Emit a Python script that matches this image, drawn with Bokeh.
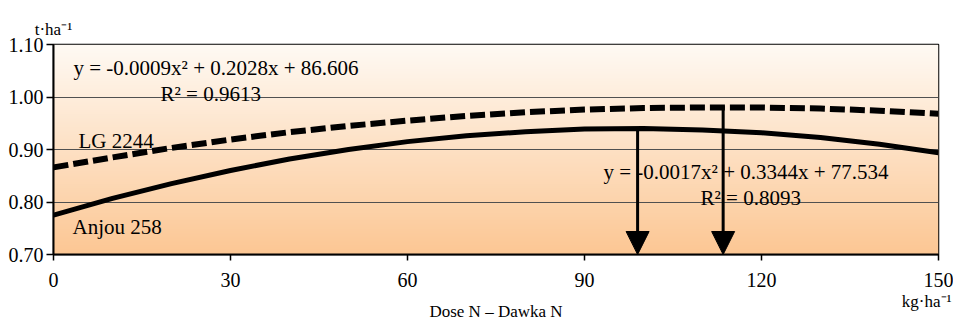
import numpy as np
from bokeh.plotting import figure
from bokeh.models import (Range1d, Label, Arrow, NormalHead, FixedTicker, PrintfTickFormatter,
                          LinearAxis)
from bokeh.embed import file_html
from bokeh.resources import INLINE

# ---- data ----
dose = [0, 10, 20, 30, 40, 50, 60, 70, 80, 90, 100, 110, 120, 130, 140, 150]
lg2244 = [0.866, 0.885, 0.903, 0.919, 0.933, 0.945, 0.955, 0.964, 0.971,
          0.976, 0.979, 0.980, 0.980, 0.978, 0.974, 0.968]
anjou258 = [0.775, 0.807, 0.835, 0.860, 0.882, 0.900, 0.915, 0.926, 0.934,
            0.939, 0.940, 0.937, 0.932, 0.923, 0.910, 0.894]
arrow_dose = [99.0, 113.5]
arrow_top = [0.938, 0.983]
x_ticks = [0, 30, 60, 90, 120, 150]
y_ticks = [0.70, 0.80, 0.90, 1.00, 1.10]
grid_ticks = [0.80, 0.90, 1.00]

eq_lg = "y = -0.0009x\u00b2 + 0.2028x + 86.606"
r2_lg = "R\u00b2 = 0.9613"
eq_an = "y = -0.0017x\u00b2 + 0.3344x + 77.534"
r2_an = "R\u00b2 = 0.8093"
name_lg = "LG 2244"
name_an = "Anjou 258"
x_title = "Dose N \u2013 Dawka N"
y_unit = "t\u00b7ha\u207b\u00b9"
x_unit = "kg\u00b7ha\u207b\u00b9"

FONT = "Liberation Serif"

# ---- layout (frame: x 53..938, y 44..257) ----
W, H = 953, 323
FL, FR, FT, FB = 53, 938, 44, 257
p = figure(width=W, height=H, x_range=Range1d(0, 150), y_range=Range1d(0.70, 1.10),
           output_backend="svg", toolbar_location=None,
           min_border_left=FL, min_border_right=W - FR, min_border_top=FT, min_border_bottom=H - FB)
p.border_fill_color = "white"
p.outline_line_color = "black"
p.outline_line_width = 1.5

def X(px):
    return (px - FL) / (FR - FL) * 150

def Y(py):
    return 1.10 - (py - FT) / (FB - FT) * 0.40

# gradient background
n = 213
img = np.zeros((n, 1), dtype=np.uint32)
v = img.view(dtype=np.uint8).reshape((n, 1, 4))
t = np.linspace(0, 1, n)
bot = np.array([252, 199, 148])
top = np.array([255, 250, 244])
for i in range(3):
    v[:, 0, i] = (bot[i] + (top[i] - bot[i]) * t).astype(np.uint8)
v[:, 0, 3] = 255
p.image_rgba(image=[img], x=0, y=0.70, dw=150, dh=0.40, level="image")

# grid
p.xgrid.visible = False
p.ygrid.ticker = FixedTicker(ticks=grid_ticks)
p.ygrid.grid_line_color = "#505050"
p.ygrid.grid_line_width = 1

# axes
for ax in (p.xaxis[0], p.yaxis[0]):
    ax.axis_line_color = "black"
    ax.axis_line_width = 2
    ax.major_tick_line_color = "black"
    ax.major_tick_line_width = 1.5
    ax.minor_tick_line_color = None
    ax.major_label_text_font = FONT
    ax.major_label_text_font_size = "20px"
    ax.major_label_text_color = "black"
    ax.major_tick_in = 0
p.xaxis.ticker = FixedTicker(ticks=x_ticks)
p.yaxis.ticker = FixedTicker(ticks=y_ticks)
p.yaxis.formatter = PrintfTickFormatter(format="%.2f")
p.xaxis.major_tick_out = 6
p.xaxis.major_label_standoff = 12
p.yaxis.major_tick_out = 7
p.yaxis.major_label_standoff = 3

# second, line-less x axis carrying the unit and the axis title
unit_pos = 148
ax2 = LinearAxis(ticker=FixedTicker(ticks=[unit_pos]),
                 major_label_overrides={unit_pos: x_unit},
                 axis_line_color=None, major_tick_line_color=None, minor_tick_line_color=None,
                 major_tick_out=0, major_tick_in=0, major_label_standoff=2,
                 major_label_text_font=FONT, major_label_text_font_size="17px",
                 major_label_text_color="black",
                 axis_label=x_title, axis_label_text_font=FONT, axis_label_text_font_size="17px",
                 axis_label_text_font_style="normal", axis_label_text_color="black",
                 axis_label_standoff=-12)
p.add_layout(ax2, "below")

# line-less axis above carrying the y unit
yunit_pos = 0
ax3 = LinearAxis(ticker=FixedTicker(ticks=[yunit_pos]),
                 major_label_overrides={yunit_pos: y_unit},
                 axis_line_color=None, major_tick_line_color=None, minor_tick_line_color=None,
                 major_tick_out=0, major_tick_in=0, major_label_standoff=6,
                 major_label_text_font=FONT, major_label_text_font_size="17px",
                 major_label_text_color="black")
p.add_layout(ax3, "above")

# curves
p.line(dose, lg2244, line_color="black", line_width=6, line_dash="15 5", line_cap="butt")
p.line(dose, anjou258, line_color="black", line_width=5)

def lab(px, py, text, size="21px", align="left"):
    p.add_layout(Label(x=X(px), y=Y(py), text=text, text_font=FONT, text_font_size=size,
                       text_baseline="alphabetic", text_align=align, text_color="black"))

lab(73, 68, eq_lg)
lab(160, 94, r2_lg)
lab(603, 173, eq_an)
lab(700, 200, r2_an)
lab(78, 142, name_lg)
lab(72, 229, name_an)

# arrows to the optimum doses
for xa, ya in zip(arrow_dose, arrow_top):
    p.add_layout(Arrow(end=NormalHead(size=23, fill_color="black", line_color="black"),
                       x_start=xa, y_start=ya, x_end=xa, y_end=0.70,
                       line_color="black", line_width=3))

open("out.html", "w").write(file_html(p, INLINE))
